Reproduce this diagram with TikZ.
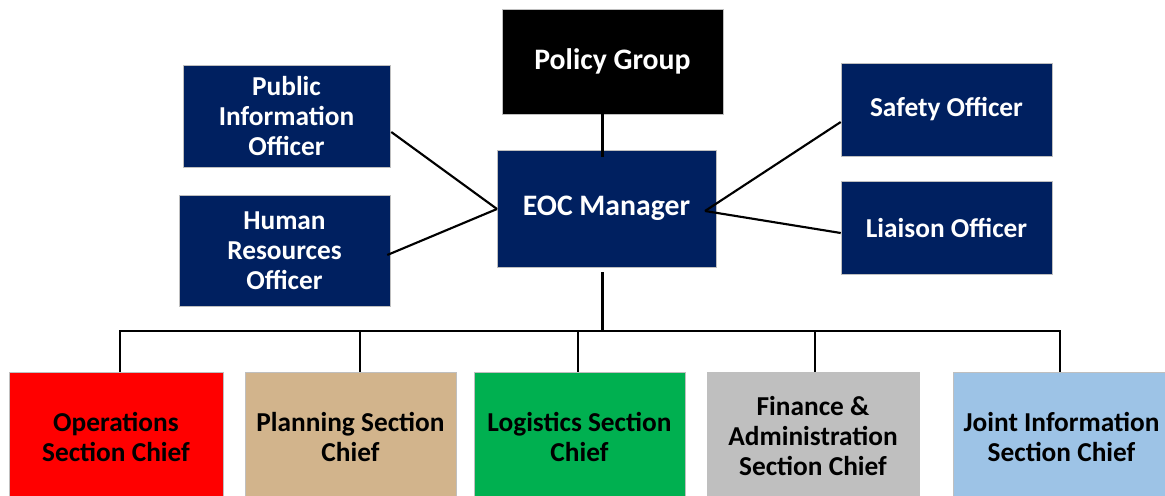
\documentclass[tikz,border=0pt]{standalone}
\usepackage{fontspec}
\setmainfont{Carlito}
\usetikzlibrary{calc}
\definecolor{navy}{HTML}{002060}
\definecolor{opsred}{HTML}{FF0000}
\definecolor{plantan}{HTML}{D2B48C}
\definecolor{loggreen}{HTML}{00B050}
\definecolor{fingray}{HTML}{BFBFBF}
\definecolor{jisblue}{HTML}{9DC3E6}
\begin{document}
\begin{tikzpicture}[x=0.75pt,y=-0.75pt,
  orgbox/.style={rectangle, inner sep=0pt, align=center, draw=white!75!black, line width=0.4pt,
    font=\bfseries\fontsize{20.5}{22.5}\selectfont},
  bigtext/.style={font=\bfseries\fontsize{22.3}{26}\selectfont},
  topbox/.style={orgbox, fill=navy, text=white},
  chief/.style={orgbox, text=black, minimum width={0.75pt*211}, minimum height={0.75pt*129}},
  link/.style={draw=black, line width=1.6pt}]
\useasboundingbox (0,0) rectangle (1165,496);

% command staff
\node[orgbox, bigtext, fill=black, text=white, minimum width={0.75pt*221}, minimum height={0.75pt*105}] (policy) at (612.5,61.5) {Policy Group};
\node[topbox, bigtext, minimum width={0.75pt*219}, minimum height={0.75pt*117}] (eoc) at (606.5,208.5) {EOC Manager};
\node[topbox, minimum width={0.75pt*207}, minimum height={0.75pt*102}] (pio) at (286.5,116) {Public\\Information\\Officer};
\node[topbox, minimum width={0.75pt*211}, minimum height={0.75pt*111}] (hro) at (284.5,250.5) {Human\\Resources\\Officer};
\node[topbox, minimum width={0.75pt*211}, minimum height={0.75pt*93}] (safety) at (946.5,109.5) {Safety Officer};
\node[topbox, minimum width={0.75pt*211}, minimum height={0.75pt*93}] (liaison) at (946.5,227.5) {Liaison Officer};

% general staff
\node[chief, fill=opsred, minimum width={0.75pt*214}] (ops) at (116,436.5) {Operations\\Section Chief};
\node[chief, fill=plantan] (plan) at (350.5,436.5) {Planning Section\\Chief};
\node[chief, fill=loggreen] (log) at (579.5,436.5) {Logistics Section\\Chief};
\node[chief, fill=fingray, minimum width={0.75pt*212}] (fin) at (813,436.5) {Finance \&\\Administration\\Section Chief};
\node[chief, fill=jisblue, minimum width={0.75pt*217}] (jis) at (1061.5,436.5) {Joint Information\\Section Chief};

% connection points
\coordinate (trunkTop) at (602.5,157);
\coordinate (trunkLow) at (602.5,272);
\coordinate (eocL) at (497,209);
\coordinate (eocR) at (705,211);
\coordinate (busL) at (120,331);
\coordinate (busM) at (602.5,331);
\coordinate (busR) at (1060,331);
\coordinate (dPlan) at (360,331);
\coordinate (dLog) at (578,331);
\coordinate (dFin) at (815,331);

% connectors
\draw[link] (policy.south -| trunkTop) -- (trunkTop);
\draw[link] ($(pio.east)+(1,16)$) -- (eocL);
\draw[link] ($(hro.east)+(-3,4.5)$) -- (eocL);
\draw[link] (eocR) -- ($(safety.west)+(0,12.5)$);
\draw[link] (eocR) -- ($(liaison.west)+(0,5.5)$);
\draw[link] (trunkLow) -- (busM);
\draw[link, line join=miter] (busL |- ops.north) -- (busL) -- (busR) -- (busR |- jis.north);
\draw[link] (dPlan) -- (dPlan |- plan.north);
\draw[link] (dLog) -- (dLog |- log.north);
\draw[link] (dFin) -- (dFin |- fin.north);
\end{tikzpicture}
\end{document}
